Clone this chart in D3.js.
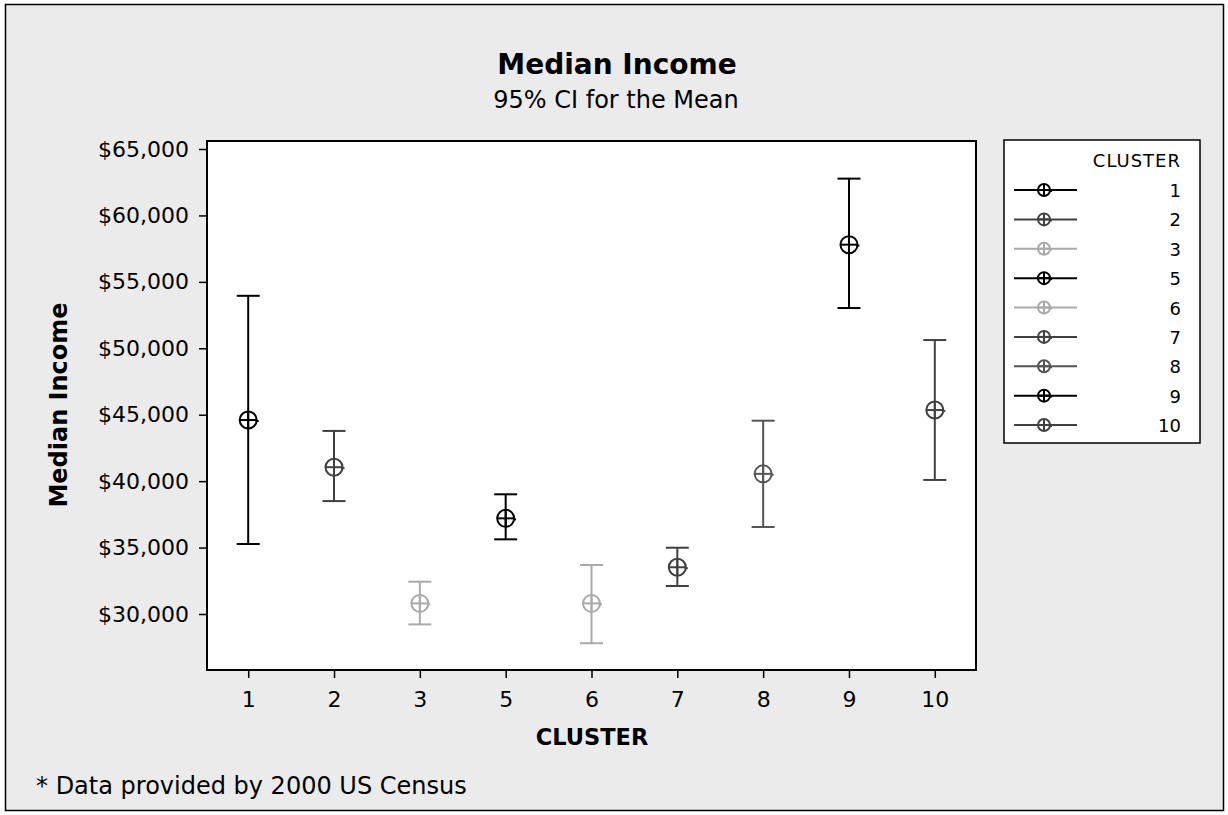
<!DOCTYPE html>
<html>
<head>
<meta charset="utf-8">
<script src="https://cdn.jsdelivr.net/npm/d3@7"></script>
<style>
  body { margin: 0; background: #fff; }
  text { font-family: "DejaVu Sans", Verdana, sans-serif; fill: #000; }
</style>
</head>
<body>
<svg width="1228" height="815"></svg>
<script>
// data
var clusters = ["1", "2", "3", "5", "6", "7", "8", "9", "10"];
var means = [44600, 41050, 30800, 37200, 30800, 33520, 40550, 57800, 45350];
var lower = [35270, 38500, 29220, 35620, 27800, 32110, 36550, 53030, 40090];
var upper = [53950, 43780, 32430, 39010, 33690, 34990, 44550, 62770, 50620];
var colours = ["#000000", "#404040", "#aaaaaa", "#000000", "#aaaaaa", "#404040", "#555555", "#000000", "#404040"];
var yTicks = [30000, 35000, 40000, 45000, 50000, 55000, 60000, 65000];

var svg = d3.select("svg");

// background + frame
svg.append("rect")
  .attr("x", 5.5).attr("y", 4.5)
  .attr("width", 1218).attr("height", 806)
  .attr("fill", "#ebebeb")
  .attr("stroke", "#000").attr("stroke-width", 1.5);

var pLeft = 207, pTop = 141, pRight = 976, pBottom = 670;

var x = d3.scalePoint()
  .domain(clusters)
  .range([pLeft, pRight])
  .padding(0.48);

var y = d3.scaleLinear()
  .domain([25786, 65602])
  .range([pBottom, pTop]);

// plot area
svg.append("rect")
  .attr("x", pLeft).attr("y", pTop)
  .attr("width", pRight - pLeft).attr("height", pBottom - pTop)
  .attr("fill", "#fff")
  .attr("stroke", "#000").attr("stroke-width", 2);

// axes
var yAxis = d3.axisLeft(y)
  .tickValues(yTicks)
  .tickSize(8)
  .tickPadding(10)
  .tickFormat(function(d){ return "$" + d3.format(",")(d); });

var gy = svg.append("g").attr("transform", "translate(" + pLeft + ",0)").call(yAxis);
gy.select(".domain").remove();
gy.selectAll("line").attr("stroke", "#000").attr("stroke-width", 1.5);
gy.selectAll("text").style("font-size", "22px").attr("font-family", null);

var xAxis = d3.axisBottom(x).tickSize(8).tickPadding(13);
var gx = svg.append("g").attr("transform", "translate(0," + pBottom + ")").call(xAxis);
gx.select(".domain").remove();
gx.selectAll("line").attr("stroke", "#000").attr("stroke-width", 1.5);
gx.selectAll("text").style("font-size", "22px").attr("font-family", null);

// marker: circle with cross hair and a little nub
function marker(g, cx, cy, r, col) {
  g.append("circle").attr("cx", cx).attr("cy", cy).attr("r", r)
    .attr("fill", "none").attr("stroke", col).attr("stroke-width", 2);
  g.append("line")
    .attr("x1", cx - r).attr("x2", cx + r)
    .attr("y1", cy).attr("y2", cy)
    .attr("stroke", col).attr("stroke-width", 2);
  g.append("line")
    .attr("x1", cx).attr("x2", cx)
    .attr("y1", cy - r).attr("y2", cy + r)
    .attr("stroke", col).attr("stroke-width", 2);
  g.append("line")
    .attr("x1", cx + r - 1).attr("x2", cx + r + 2)
    .attr("y1", cy + 1).attr("y2", cy + 1)
    .attr("stroke", col).attr("stroke-width", 2);
}

// interval plot
var cap = 11.5;
clusters.forEach(function(c, i) {
  var g = svg.append("g");
  var cx = x(c);
  g.append("line")
    .attr("x1", cx).attr("x2", cx)
    .attr("y1", y(upper[i])).attr("y2", y(lower[i]))
    .attr("stroke", colours[i]).attr("stroke-width", 2);
  [upper[i], lower[i]].forEach(function(v) {
    g.append("line")
      .attr("x1", cx - cap).attr("x2", cx + cap)
      .attr("y1", y(v)).attr("y2", y(v))
      .attr("stroke", colours[i]).attr("stroke-width", 2);
  });
  marker(g, cx, y(means[i]), 8.5, colours[i]);
});

// titles
svg.append("text")
  .attr("x", 617).attr("y", 74)
  .attr("text-anchor", "middle")
  .style("font-size", "28px").style("font-weight", "bold")
  .text("Median Income");

svg.append("text")
  .attr("x", 616).attr("y", 108)
  .attr("text-anchor", "middle")
  .style("font-size", "24px")
  .text("95% CI for the Mean");

svg.append("text")
  .attr("transform", "translate(67,405) rotate(-90)")
  .attr("text-anchor", "middle")
  .style("font-size", "24px").style("font-weight", "bold")
  .text("Median Income");

svg.append("text")
  .attr("x", 592).attr("y", 745)
  .attr("text-anchor", "middle")
  .style("font-size", "22.5px").style("font-weight", "bold")
  .text("CLUSTER");

svg.append("text")
  .attr("x", 36).attr("y", 794)
  .style("font-size", "24px")
  .text("* Data provided by 2000 US Census");

// legend
var lg = svg.append("g");
lg.append("rect")
  .attr("x", 1004).attr("y", 140)
  .attr("width", 196).attr("height", 303)
  .attr("fill", "#fff")
  .attr("stroke", "#000").attr("stroke-width", 1.5);

lg.append("text")
  .attr("x", 1181).attr("y", 167)
  .attr("text-anchor", "end")
  .style("font-size", "18px").style("letter-spacing", "1px")
  .text("CLUSTER");

var ly = d3.scalePoint().domain(clusters).range([190, 425]);
clusters.forEach(function(c, i) {
  var yy = ly(c);
  lg.append("line")
    .attr("x1", 1014).attr("x2", 1077)
    .attr("y1", yy).attr("y2", yy)
    .attr("stroke", colours[i]).attr("stroke-width", 2);
  marker(lg, 1044, yy, 6, colours[i]);
  lg.append("text")
    .attr("x", 1181).attr("y", yy + 7)
    .attr("text-anchor", "end")
    .style("font-size", "18px")
    .text(c);
});
</script>
</body>
</html>
